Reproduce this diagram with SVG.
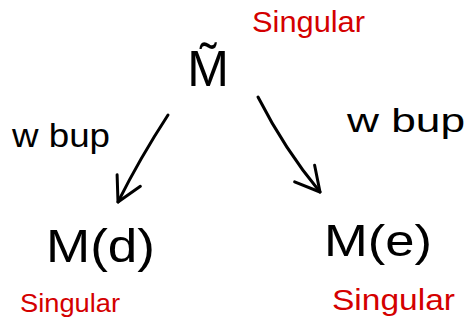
<svg xmlns="http://www.w3.org/2000/svg" width="471" height="323" viewBox="0 0 471 323">
<style>
.k{font-family:"Liberation Sans","DejaVu Sans",sans-serif;fill:#000}
.r{font-family:"Liberation Sans","DejaVu Sans",sans-serif;fill:#d40000}
.c{fill:none;stroke:#000;stroke-width:3;stroke-linecap:round;stroke-linejoin:round}
</style>
<defs>
<marker id="ah" viewBox="-30 -20 34 40" refX="0" refY="0" markerWidth="34" markerHeight="40" markerUnits="userSpaceOnUse" orient="auto">
<path d="M-24,-13 L0,0 L-24,13" fill="none" stroke="#000" stroke-width="3" stroke-linecap="round" stroke-linejoin="round"/>
</marker>
</defs>
<rect width="471" height="323" fill="#fff"/>
<g id="Mtilde">
<text class="k" x="208" y="86" font-size="50" text-anchor="middle">M̃</text>
<text class="r" x="252" y="32" font-size="30" textLength="113" lengthAdjust="spacingAndGlyphs">Singular</text>
</g>
<g id="Md">
<text class="k" x="46" y="262" font-size="46" textLength="109" lengthAdjust="spacingAndGlyphs">M(d)</text>
<text class="r" x="20" y="312" font-size="26" textLength="100" lengthAdjust="spacingAndGlyphs">Singular</text>
</g>
<g id="Me">
<text class="k" x="324" y="256" font-size="44" textLength="108" lengthAdjust="spacingAndGlyphs">M(e)</text>
<text class="r" x="332" y="310" font-size="30" textLength="123" lengthAdjust="spacingAndGlyphs">Singular</text>
</g>
<g id="connectors">
<path class="c" d="M168,115 Q140,158 118,202" marker-end="url(#ah)"/>
<path class="c" d="M258,97 Q285,150 320,192" marker-end="url(#ah)"/>
<text class="k" x="12" y="147" font-size="34" textLength="98" lengthAdjust="spacingAndGlyphs">w bup</text>
<text class="k" x="347" y="132" font-size="34" textLength="118" lengthAdjust="spacingAndGlyphs">w bup</text>
</g>
</svg>
